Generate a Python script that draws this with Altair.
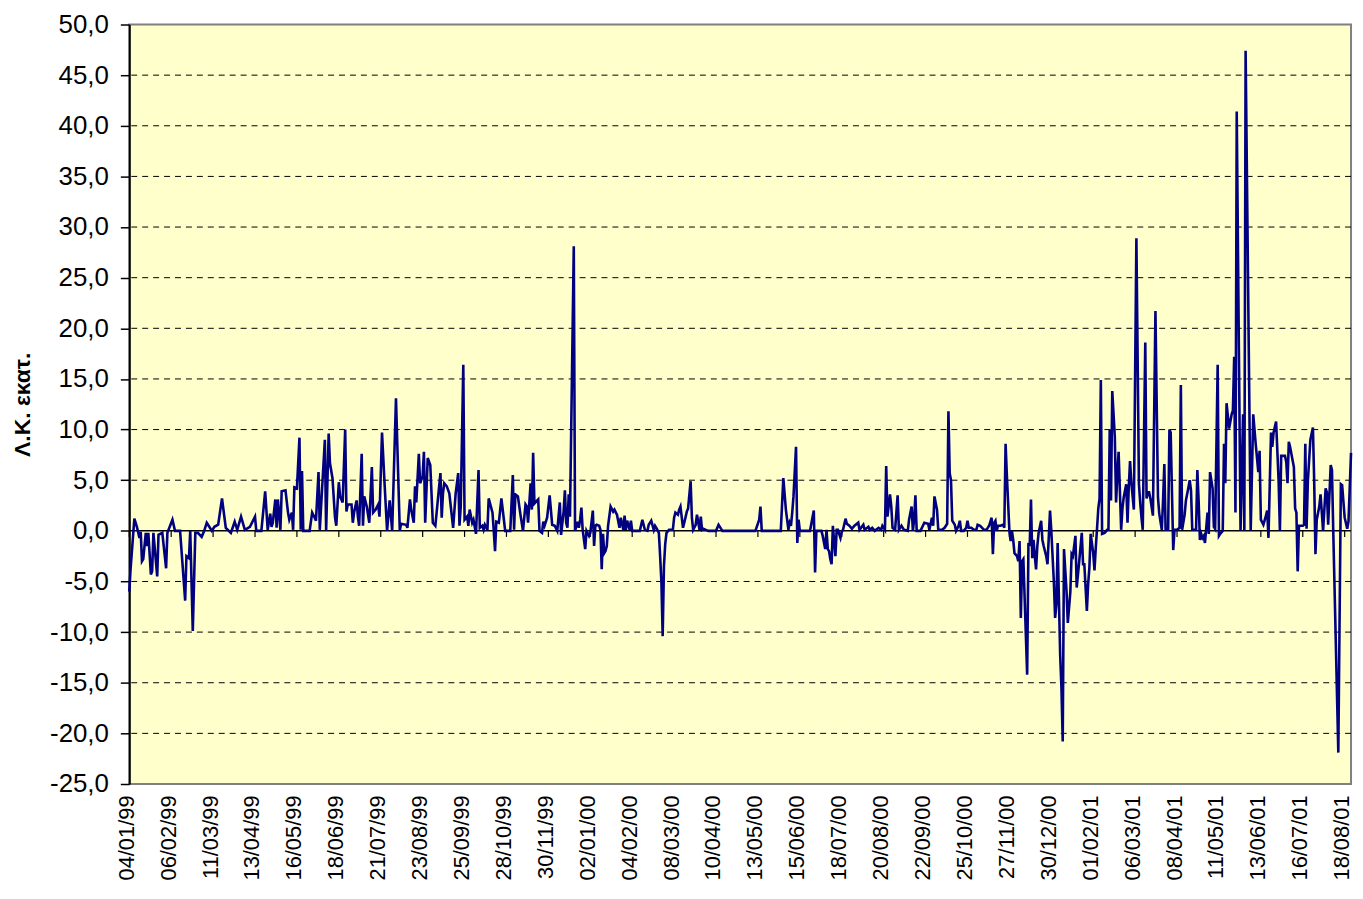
import altair as alt
import pandas as pd

# ---------------- data (days since 04/01/1999, value in million) -------------
BASE_DATE = "1999-01-04"
END_DAY = 962

days_a = [0, 1, 4, 6, 8, 9, 10, 11, 13, 14, 15, 17, 18, 19, 22, 23, 26, 29, 30, 34, 36, 40, 44, 45, 47, 48, 50, 52, 54, 57,
          59, 61, 63, 65, 67, 70, 73, 76, 80, 83, 85, 88, 91, 95, 99, 100, 104, 107, 109, 111, 112, 113, 115, 116, 117, 119, 120,
          123, 125, 126, 128, 129, 130, 132, 134, 135, 136, 137, 142, 144, 146, 147, 149, 150, 154, 155, 157, 158, 160, 162,
          163, 165, 166, 168, 170, 171, 172, 175, 176, 177, 179, 180, 181, 183, 184, 185, 187, 189, 191, 192, 194, 196, 197,
          199, 201, 203, 205, 207, 210, 213, 214, 218, 219, 221, 222, 224, 225, 226, 228, 229, 231, 232, 233]
vals_a = [-6.0, -3.8, 1.2, 0.4, -0.7, -0.1, -3.0, -2.8, -0.2, -1.5, -0.2, -4.3, -4.0, -0.2, -4.5, -0.4, -0.2, -3.7, -0.2, 1.1,
          0.0, 0.0, -6.9, -2.5, -2.7, 0.0, -9.9, -0.2, -0.2, -0.6, 0.0, 0.8, 0.4, 0.0, 0.4, 0.6, 3.2, 0.3, -0.2, 0.9, 0.1, 1.4,
          0.1, 0.4, 1.4, 0.0, 0.0, 3.9, 0.1, 1.7, 0.4, 0.8, 3.1, 0.3, 3.1, 0.1, 3.9, 4.0, 1.8, 1.1, 1.8, 0.1, 4.3, 4.2, 9.2,
          0.1, 5.9, 0.0, 0.0, 1.8, 1.3, 1.0, 5.8, 0.1, 9.0, 0.0, 9.6, 6.7, 5.2, 1.3, 0.5, 4.8, 3.4, 2.8, 10.0, 1.9, 2.6, 2.6,
          0.8, 1.8, 3.0, 1.4, 0.5, 7.6, 0.5, 3.4, 2.4, 0.8, 6.3, 1.8, 2.1, 2.6, 1.4, 9.7, 4.7, 0.0, 3.0, 0.0, 13.1, 0.0, 0.7,
          0.6, 0.3, 3.1, 2.1, 0.8, 4.4, 2.8, 7.6, 4.7, 5.4, 7.8, 0.8]

days_b = [235, 237, 239, 241, 243, 245, 246, 247, 248, 250, 252, 255, 257, 259, 260, 261, 263, 264, 266, 267, 268, 270, 271,
          273, 275, 276, 278, 279, 280, 282, 283, 286, 287, 288, 289, 291, 293, 296, 300, 302, 303, 304, 306, 308, 310, 312,
          313, 314, 316, 317, 318, 319, 322, 323, 325, 326, 327, 329, 331, 333, 335, 337, 339, 340, 342, 343, 344, 345, 346,
          347, 350, 351, 353, 354, 355, 356, 357, 359, 360, 362, 363, 365, 366, 367, 368, 370, 371, 372, 373, 374, 375, 376,
          377, 379, 381, 382, 384, 386, 387, 389, 390, 391, 392, 394, 395, 396, 402, 404, 406, 408, 409, 411, 413, 414, 415,
          417, 418, 419, 420, 421, 422, 423, 425, 428, 429, 430, 432, 433, 434, 436, 437, 439, 440, 442, 443, 444, 446, 447,
          449, 450, 451, 452, 454, 456, 459, 462, 464, 466, 467]
vals_b = [7.2, 6.5, 0.8, 0.5, 3.1, 5.7, 1.3, 3.7, 4.7, 4.4, 3.7, 0.3, 3.7, 5.7, 0.5, 2.4, 16.4, 1.1, 1.4, 0.5, 2.1, 0.8, 1.1,
          -0.3, 6.0, 0.3, 0.5, 0.1, 0.6, 0.1, 3.2, 1.8, 0.0, -2.0, 0.9, 0.8, 3.2, 0.0, 0.0, 5.5, 0.1, 3.6, 3.4, 1.6, 0.0, 2.6,
          2.4, 0.8, 4.7, 2.1, 7.7, 2.7, 3.1, 0.0, -0.2, 0.9, 0.5, 1.3, 3.5, 0.6, 0.5, 0.0, 2.8, -0.4, 1.9, 4.0, 0.8, 0.3, 3.6,
          1.4, 28.1, 0.0, 0.9, 0.3, 1.1, 2.3, 0.1, -1.8, 0.0, -0.5, -0.2, 2.0, -1.5, 0.5, 0.6, 0.5, 0.1, -3.8, -0.3, -2.2,
          -2.0, -1.5, 0.5, 2.4, 1.9, 2.1, 1.6, 0.3, 1.3, 0.1, 1.5, 0.1, 1.0, 0.1, 1.0, 0.0, 0.0, 1.1, 0.1, 0.0, 0.6, 1.0, 0.1,
          0.5, 0.3, -0.2, -2.5, -5.1, -10.4, -3.5, -1.3, -0.2, 0.1, 0.1, 1.3, 1.8, 1.6, 2.1, 2.4, 0.3, 0.8, 1.9, 2.2, 4.9, 1.3,
          0.1, 0.6, 1.6, 0.1, 1.4, 0.1, 0.2, 0.1, 0.0, 0.0, 0.0, 0.6, 0.2, 0.0]

days_c = [493, 496, 497, 498, 513, 515, 517, 519, 520, 521, 522, 523, 525, 526, 527, 528, 536, 539, 540, 541, 545, 546, 548,
          549, 550, 551, 552, 553, 554, 556, 557, 558, 560, 561, 562, 564, 565, 567, 569, 571, 574, 575, 578, 579, 582, 583,
          585, 587, 590, 592, 593, 595, 596, 597, 599, 600, 601, 603, 605, 606, 608, 610, 613, 614, 616, 617, 618, 619, 620,
          623, 626, 629, 630, 632, 633, 634, 636, 637, 640, 642, 644, 645, 646, 647, 648, 650, 651, 653, 654, 655, 657, 659,
          660, 661, 663, 665, 667, 668, 670, 673, 675, 677, 679, 680, 681, 682, 683, 684, 686, 688, 689, 690, 691, 693, 694,
          695, 696, 697, 699, 700, 701, 702, 703, 704, 707, 708, 709, 710, 711, 712, 713, 714, 715, 716, 718, 719, 720, 722,
          723, 725, 726]
vals_c = [0.0, 1.1, 2.4, 0.0, 0.0, 5.2, 2.1, 0.1, 0.8, 0.5, 1.8, 3.4, 8.3, -1.2, 1.1, 0.0, 0.0, 2.0, -4.1, 0.0, 0.0, -0.5,
          -1.8, 0.1, -1.8, -2.0, -2.8, -3.3, 0.5, -2.5, 0.1, 0.1, -0.7, -0.1, 0.1, 1.2, 0.7, 0.5, 0.2, 0.5, 0.8, 0.1, 0.6, 0.1,
          0.4, 0.1, 0.3, 0.0, 0.3, 0.1, 0.5, 0.1, 6.4, 1.4, 3.6, 2.4, 0.3, 0.1, 3.5, 0.1, 0.5, 0.1, 0.0, 1.1, 2.4, 0.0, 1.1,
          3.5, 0.0, 0.0, 0.8, 0.7, 0.1, 1.3, 0.5, 3.4, 2.1, 0.1, 0.1, 0.3, 0.7, 11.8, 5.7, 5.0, 1.0, 0.6, 0.0, 0.5, 1.0, 0.0,
          0.0, 0.3, 1.0, 0.3, 0.3, 0.1, 0.1, 0.6, 0.5, 0.1, 0.1, 0.5, 1.3, -2.3, 0.8, 1.0, 0.0, 0.5, 0.5, 0.6, 0.3, 8.6, 5.5,
          0.0, -1.0, 0.0, -0.9, -2.2, -2.5, -3.0, -1.0, -8.6, -3.0, -2.8, -14.2, -1.2, -1.5, 3.1, -2.7, -0.9, -2.5, -3.8, -1.5,
          -0.2, 1.0, -0.9, -1.5, -2.5, -3.3, 2.0, 0.0]

days_d = [728, 729, 730, 731, 733, 734, 735, 736, 738, 739, 741, 742, 743, 745, 746, 748, 750, 751, 752, 754, 755, 756, 757,
          759, 760, 761, 762, 763, 764, 765, 766, 768, 770, 771, 772, 773, 774, 776, 777, 778, 779, 781, 782, 783, 785, 786,
          787, 788, 789, 791, 793, 795, 796, 797, 798, 800, 801, 802, 803, 804, 806, 808, 810, 811, 813, 814, 815, 816, 818,
          819, 820, 822, 823, 825, 827, 828, 829, 831, 832, 834, 835, 836, 837, 840, 841, 842, 843]
vals_d = [-5.0, -8.6, -7.3, -1.2, -12.3, -15.6, -20.8, -1.8, -6.0, -9.1, -6.0, -2.3, -2.5, -0.5, -5.6, -3.0, -0.2, -3.3,
          -3.3, -7.9, -5.3, -3.6, -0.3, -2.2, -3.9, -1.7, 0.2, 2.2, 3.2, 14.9, -0.3, -0.2, 0.1, 0.1, 10.0, 3.0, 13.8, 9.3, 2.8,
          5.6, 7.8, 0.1, 2.2, 3.3, 4.6, 0.8, 4.3, 6.9, 4.8, 2.1, 28.9, 4.6, 2.8, 1.3, 0.1, 18.6, 3.2, 3.8, 3.8, 3.2, 1.5, 21.7,
          3.3, 1.7, 0.1, 3.0, 6.6, 0.1, 0.1, 10.0, 9.7, -1.9, 0.1, 0.1, 0.3, 14.4, 0.1, 1.6, 3.0, 4.3, 5.0, 4.0, 0.1, 0.1, 6.0,
          3.0, -0.9]

days_e = [844, 845, 846, 847, 849, 850, 851, 853, 854, 855, 857, 858, 859, 861, 862, 863, 864, 866, 868, 869, 870, 871, 872,
          875, 877, 878, 879, 883, 885, 887, 889, 890, 891, 893, 895, 896, 897, 899, 900, 901, 903, 905, 906, 907, 910, 911,
          912, 913, 914, 917, 918, 919, 920, 921, 924, 925, 926, 927, 928, 930, 932, 933, 934, 935, 937, 938, 940, 942, 943,
          944, 946, 947, 948, 952, 954, 955, 957, 959, 960, 962]
vals_e = [-0.3, -0.7, -0.5, -1.2, 1.8, -0.3, 5.8, 4.2, 0.4, 0.2, 16.4, -0.5, -0.3, 0.0, 8.6, 4.7, 12.6, 10.1, 11.5, 11.9, 17.2,
          1.8, 41.4, 0.0, 11.5, 0.0, 47.4, 0.0, 11.5, 8.5, 5.8, 7.9, 1.1, 0.6, 1.5, 2.0, -0.7, 9.7, 8.3, 9.7, 10.8, 4.9, 0.0,
          7.4, 7.4, 6.8, 4.7, 8.8, 8.3, 6.3, 2.2, 1.8, -4.0, 0.5, 0.5, 0.6, 8.6, 0.2, 4.9, 9.0, 10.2, 4.9, -2.3, 1.1, 2.4, 3.6,
          0.0, 4.2, 3.8, 0.6, 6.5, 6.0, 0.0, -21.9, 4.6, 4.5, 1.3, 0.2, 0.9, 7.7]

tick_labels = ["04/01/99", "06/02/99", "11/03/99", "13/04/99", "16/05/99", "18/06/99", "21/07/99", "23/08/99",
               "25/09/99", "28/10/99", "30/11/99", "02/01/00", "04/02/00", "08/03/00", "10/04/00", "13/05/00",
               "15/06/00", "18/07/00", "20/08/00", "22/09/00", "25/10/00", "27/11/00", "30/12/00", "01/02/01",
               "06/03/01", "08/04/01", "11/05/01", "13/06/01", "16/07/01", "18/08/01"]
y_ticks = [-25, -20, -15, -10, -5, 0, 5, 10, 15, 20, 25, 30, 35, 40, 45, 50]
grid_values = [-20, -15, -10, -5, 5, 10, 15, 20, 25, 30, 35, 40, 45]

# ---------------- build tables ----------------
base = pd.Timestamp(BASE_DATE)
days = days_a + days_b + days_c + days_d + days_e
vals = vals_a + vals_b + vals_c + vals_d + vals_e
df = pd.DataFrame({
    "date": [(base + pd.Timedelta(days=d)).strftime("%Y-%m-%d") for d in days],
    "value": vals,
})

tick_ts = [pd.to_datetime(t, format="%d/%m/%y") for t in tick_labels]
tick_df = pd.DataFrame({"date": [t.strftime("%Y-%m-%d") for t in tick_ts]})
tick_dt = [alt.DateTime(year=t.year, month=t.month, date=t.day, utc=True) for t in tick_ts]
end = base + pd.Timedelta(days=END_DAY)

FONT = "Liberation Sans"

x_scale = alt.Scale(
    type="utc",
    domain=[alt.DateTime(year=base.year, month=base.month, date=base.day, utc=True),
            alt.DateTime(year=end.year, month=end.month, date=end.day, utc=True)],
    nice=False,
)
y_scale = alt.Scale(domain=[-25, 50], nice=False, zero=False)

x_axis = alt.Axis(
    values=tick_dt,
    labelExpr="utcFormat(datum.value, '%d/%m/%y')",
    labelAngle=270, labelAlign="right", labelBaseline="middle",
    labelPadding=11, labelFontSize=22, labelFont=FONT, labelColor="black",
    labelOffset=-3,
    labelOverlap=False, labelFlush=False, labelBound=False,
    ticks=False, domain=False, grid=False, title=None,
)
y_axis = alt.Axis(
    values=y_ticks,
    labelExpr="datum.value + ',0'",
    labelFontSize=26, labelFont=FONT, labelColor="black", labelPadding=12,
    grid=False, domainColor="black", domainWidth=2, tickColor="black", tickSize=9, tickWidth=1.5,
    title="Λ.Κ. εκατ.", titleFont=FONT, titleFontSize=23, titleFontWeight="bold", titleColor="black",
    titleAngle=270, titleX=-107, titleY=382, titleAlign="center", titleBaseline="middle",
)

grid = alt.Chart(pd.DataFrame({"g": grid_values})).mark_rule(
    color="black", strokeWidth=1, strokeDash=[6, 5]
).encode(y=alt.Y("g:Q", scale=y_scale, axis=y_axis))

zero = alt.Chart(pd.DataFrame({"z": [0]})).mark_rule(color="black", strokeWidth=1.5).encode(
    y=alt.Y("z:Q", scale=y_scale)
)

zero_ticks = alt.Chart(tick_df).mark_rule(color="black", strokeWidth=1.2).encode(
    x=alt.X("date:T", scale=x_scale, axis=x_axis),
    y=alt.datum(0),
    y2=alt.datum(-0.6),
)

line = alt.Chart(df).mark_line(color="#000080", strokeWidth=2.6).encode(
    x=alt.X("date:T", scale=x_scale, axis=x_axis),
    y=alt.Y("value:Q", scale=y_scale, axis=y_axis),
)

chart = alt.layer(grid, zero, zero_ticks, line).properties(
    width=1229, height=764,
    autosize=alt.AutoSizeParams(type="none"),
    padding={"left": 122, "top": 14, "right": 4, "bottom": 101},
    background="white",
).configure_view(
    fill="#FFFFCC", stroke="#808080", strokeWidth=2
)

chart.save("out.html", embed_options={"renderer": "svg", "actions": False})
